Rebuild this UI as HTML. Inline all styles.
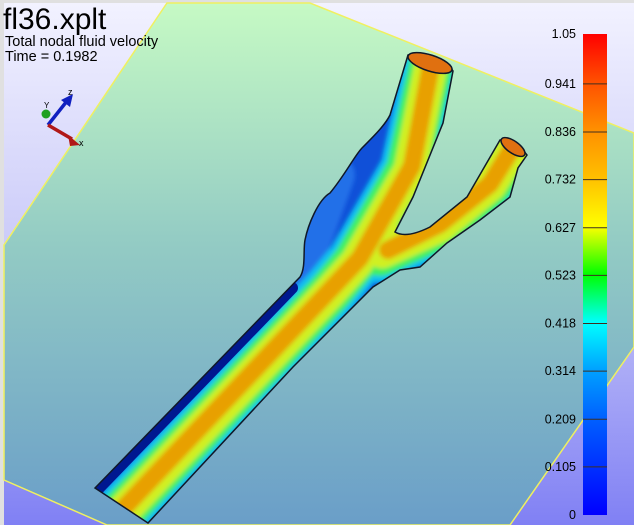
<!DOCTYPE html>
<html><head><meta charset="utf-8"><style>
html,body{margin:0;padding:0;width:634px;height:525px;overflow:hidden;background:#e0e0e0;font-family:"Liberation Sans",sans-serif}
</style></head><body>
<svg width="634" height="525" viewBox="0 0 634 525" xmlns="http://www.w3.org/2000/svg">
<defs>
<linearGradient id="bg" x1="0" y1="0" x2="0" y2="1"><stop offset="0" stop-color="#f2f2ff"/><stop offset="0.5" stop-color="#c8c8f8"/><stop offset="1" stop-color="#8080f4"/></linearGradient>
<linearGradient id="pl" x1="0" y1="0" x2="0" y2="1"><stop offset="0" stop-color="#c6fac4"/><stop offset="0.45" stop-color="#94ccc4"/><stop offset="1" stop-color="#6a9ec8"/></linearGradient>
<linearGradient id="cb" x1="0" y1="1" x2="0" y2="0">
<stop offset="0" stop-color="#0000ff"/><stop offset="0.1" stop-color="#0030ff"/><stop offset="0.2" stop-color="#0060ff"/><stop offset="0.3" stop-color="#00a0ff"/><stop offset="0.4" stop-color="#00ffff"/><stop offset="0.5" stop-color="#00ff00"/><stop offset="0.6" stop-color="#ffff00"/><stop offset="0.7" stop-color="#ffc000"/><stop offset="0.8" stop-color="#ff9000"/><stop offset="0.9" stop-color="#ff5000"/><stop offset="1" stop-color="#ff0000"/></linearGradient>
<filter id="bl" x="-10%" y="-10%" width="120%" height="120%"><feGaussianBlur stdDeviation="2.2"/></filter>
<clipPath id="vc"><path id="outline" d="M95,488 L300,277 C306,268 303,250 305,240 C308,225 318,200 330,193 C345,175 355,155 362,148 C375,135 385,125 390,115 L408,55 C425,50 445,58 453,71 L443,123 L413,197 L395,232 C405,238 420,232 430,227 L467,197 L500,140 C510,140 522,148 527,155 L518,168 L510,197 L480,220 L447,243 L420,267 L400,270 L373,287 L293,367 L148,523 Z"/></clipPath>
</defs>
<rect x="4" y="3" width="630" height="522" fill="url(#bg)"/>
<polygon points="167,3 310,3 634,133 634,347 510,525 107,525 4,480 4,245" fill="url(#pl)" stroke="#f0f060" stroke-width="1.5"/>
<g>
<use href="#outline" fill="#1050d8"/>
<g clip-path="url(#vc)"><g filter="url(#bl)" fill="none" stroke-linecap="round" stroke-linejoin="round">
<path d="M335,175 C322,210 312,240 298,270" stroke="#2070e8" stroke-width="40"/>
<path d="M124,510 L330,292 L355,262 L408,170 L432,60 M378,255 L440,227 L490,185 L515,146" stroke="#10c0f0" stroke-width="56"/>
<path d="M124,510 L330,292 L355,262 L408,170 L432,60 M380,254 L440,227 L490,185 L515,146" stroke="#40f060" stroke-width="44"/>
<path d="M124,510 L330,292 L357,262 L410,170 L432,60 M382,252 L440,226 L490,185 L515,146" stroke="#d0f020" stroke-width="33"/>
<path d="M122,510 L330,290 L360,258 L412,166 L432,60 M388,250 L440,224 L490,184 L513,147" stroke="#e8a000" stroke-width="18"/>
</g>
<path d="M90,497 L292,288" stroke="#001890" stroke-width="12" stroke-linecap="round" fill="none"/>
</g>
<use href="#outline" fill="none" stroke="#101828" stroke-width="1.5"/>
<ellipse cx="430" cy="63" rx="23" ry="8" transform="rotate(18 430 63)" fill="#e07010" stroke="#101828" stroke-width="1.5"/>
<ellipse cx="513" cy="147" rx="14" ry="6" transform="rotate(35 513 147)" fill="#e07010" stroke="#101828" stroke-width="1.5"/>
</g>
<g>
<line x1="48" y1="125" x2="67" y2="101" stroke="#1020c0" stroke-width="3.5"/><polygon points="73,94 61,100 70,107" fill="#1020c0"/>
<line x1="48" y1="125" x2="72" y2="139" stroke="#b01818" stroke-width="3.5"/><polygon points="80,145 68,135 70,146" fill="#b01818"/>
<circle cx="46" cy="114" r="4.5" fill="#20a020"/>
<text x="68" y="95" font-size="9">z</text><text x="44" y="108" font-size="8">Y</text><text x="79" y="146" font-size="9">x</text>
</g>
<text x="3" y="29" font-size="30">fl36.xplt</text>
<text x="5" y="46" font-size="14.5">Total nodal fluid velocity</text>
<text x="5" y="61" font-size="14.5">Time = 0.1982</text>
<rect x="583" y="34" width="24" height="481" fill="url(#cb)"/>
<g id="ticks"></g>
</svg>
<script>
const tickLabels=["0","0.105","0.209","0.314","0.418","0.523","0.627","0.732","0.836","0.941","1.05"];
const tickValues=[0,0.105,0.209,0.314,0.418,0.523,0.627,0.732,0.836,0.941,1.05];
const vmin=0,vmax=1.05,y0=515,y1=34;
const yScale=v=>y0-(v-vmin)/(vmax-vmin)*(y0-y1);
const g=document.getElementById('ticks');
const ns="http://www.w3.org/2000/svg";
tickValues.forEach((v,i)=>{
 const y=yScale(v);
 if(i>0&&i<tickValues.length-1){
  const l=document.createElementNS(ns,'line');
  
  
  l.setAttribute('x1',583);l.setAttribute('x2',607);l.setAttribute('y1',y);l.setAttribute('y2',y);
  l.setAttribute('stroke','#403020');l.setAttribute('stroke-width','1');
  g.appendChild(l);
 }
 const t=document.createElementNS(ns,'text');
 
 
 t.setAttribute('x',576);t.setAttribute('y',y+4);t.setAttribute('text-anchor','end');t.setAttribute('font-size','12.5');
 t.textContent=tickLabels[i];
 g.appendChild(t);
});
</script>
</body></html>
